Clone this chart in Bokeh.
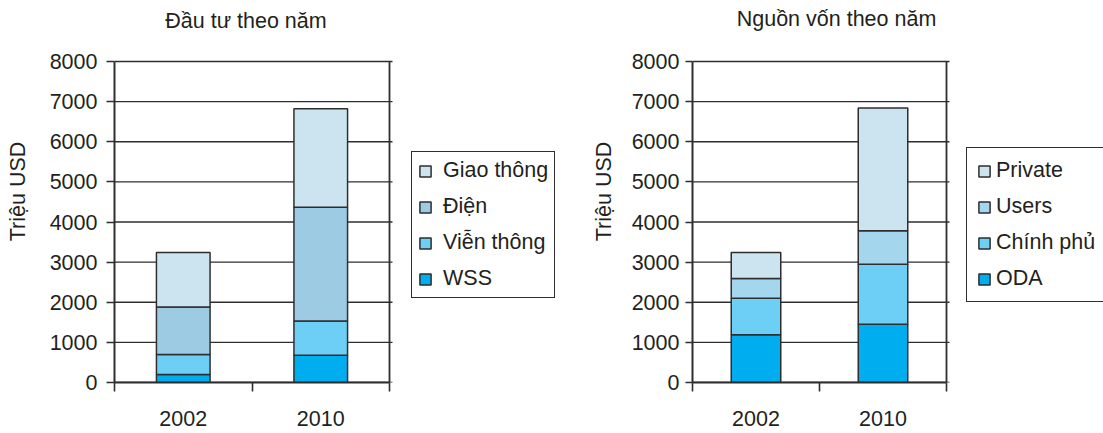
from bokeh.plotting import figure
from bokeh.layouts import row
from bokeh.models import Range1d, FixedTicker, Legend, LegendItem, Label
from bokeh.embed import file_html
from bokeh.resources import INLINE

# Years on the category axis
years = ["2002", "2010"]

# Investment by sector (million USD), stacked bottom to top
invest_names = ["WSS", "Viễn thông", "Điện", "Giao thông"]
wss = [200, 680]
vien_thong = [500, 855]
dien = [1180, 2830]
giao_thong = [1360, 2455]

# Funding sources (million USD), stacked bottom to top
fund_names = ["ODA", "Chính phủ", "Users", "Private"]
oda = [1190, 1450]
chinh_phu = [910, 1500]
users = [490, 830]
private = [650, 3060]

y_ticks = [0, 1000, 2000, 3000, 4000, 5000, 6000, 7000, 8000]

invest_colors = ["#00aeef", "#6dcff6", "#9ecbe4", "#cce4f0"]
fund_colors = ["#00aeef", "#6dcff6", "#a4d6ee", "#cce4f0"]

FONT = "Liberation Sans"
TEXT = "#231f20"
LINE = "#2e2e2e"
FS = "21.5px"

HEIGHT = 433
BOTTOM = 51        # space under the value axis
AXIS_TOP = 61      # pixel row of the top tick


def make_chart(title, names, values, colors, width, left, box_w,
               tick_out, tick_standoff, label_standoff,
               title_x, title_y, leg_x, leg_y, leg_pad, leg_standoff,
               leg_label_w):
    # The drawing area reaches the top and right edges so that the title and
    # the legend can sit beside the boxed plot; the box itself spans box_w px.
    frame_w = width - left
    frame_h = HEIGHT - BOTTOM
    box_h = frame_h - AXIS_TOP
    n = len(years)
    x_end = n * frame_w / box_w
    y_end = y_ticks[-1] * frame_h / box_h
    grid_end = n * (box_w + 3) / box_w   # grid lines poke just past the box

    p = figure(width=width, height=HEIGHT,
               x_range=Range1d(0, x_end), y_range=Range1d(0, y_end),
               output_backend="svg", toolbar_location=None,
               min_border_left=left, min_border_right=0,
               min_border_top=0, min_border_bottom=BOTTOM)
    p.background_fill_color = "white"
    p.border_fill_color = "white"
    p.outline_line_color = None
    p.xgrid.visible = False
    p.ygrid.visible = False

    # horizontal grid lines and right border of the plot box
    p.segment(x0=0, x1=grid_end, y0=y_ticks, y1=y_ticks,
              line_color=LINE, line_width=1.4)
    p.segment(x0=n, x1=n, y0=0, y1=y_ticks[-1],
              line_color=LINE, line_width=1.8)

    xs = [i + 0.5 for i in range(n)]
    data = {"x": xs}
    for name, v in zip(names, values):
        data[name] = v
    renderers = p.vbar_stack(names, x="x", width=0.39, source=data,
                             fill_color=colors, line_color=LINE,
                             line_width=1.5)

    # y axis
    yax = p.yaxis[0]
    yax.bounds = (0, y_ticks[-1])
    yax.ticker = FixedTicker(ticks=y_ticks)
    yax.axis_label = "Triệu USD"
    yax.axis_label_text_font = FONT
    yax.axis_label_text_font_size = FS
    yax.axis_label_text_font_style = "normal"
    yax.axis_label_text_color = TEXT
    yax.axis_label_standoff = label_standoff
    yax.major_label_text_font = FONT
    yax.major_label_text_font_size = FS
    yax.major_label_text_color = TEXT
    yax.major_label_standoff = tick_standoff
    yax.major_tick_out = tick_out
    yax.major_tick_in = 0
    yax.major_tick_line_color = LINE
    yax.major_tick_line_width = 1.6
    yax.minor_tick_line_color = None
    yax.axis_line_color = LINE
    yax.axis_line_width = 2

    # x axis: labels at bar centres, tick marks between categories
    xax = p.xaxis[0]
    xax.bounds = (0, n)
    xax.ticker = FixedTicker(ticks=xs, minor_ticks=list(range(n + 1)))
    xax.major_label_overrides = {x: y for x, y in zip(xs, years)}
    xax.major_label_text_font = FONT
    xax.major_label_text_font_size = FS
    xax.major_label_text_color = TEXT
    xax.major_tick_line_color = None
    xax.major_tick_out = 0
    xax.major_tick_in = 0
    xax.major_label_standoff = 19
    xax.minor_tick_out = 9
    xax.minor_tick_in = 0
    xax.minor_tick_line_color = LINE
    xax.minor_tick_line_width = 1.6
    xax.axis_line_color = LINE
    xax.axis_line_width = 2

    p.add_layout(Label(x=title_x, y=title_y, x_units="screen", y_units="screen",
                       text=title, text_align="center",
                       text_baseline="alphabetic", text_font=FONT,
                       text_font_size=FS, text_color=TEXT))

    items = [LegendItem(label=name, renderers=[r])
             for name, r in zip(reversed(names), reversed(renderers))]
    legend = Legend(items=items, location=(leg_x, leg_y),
                    glyph_width=14, glyph_height=14, label_height=24,
                    label_width=leg_label_w,
                    spacing=11, padding=leg_pad, margin=0,
                    label_standoff=leg_standoff,
                    label_text_font=FONT, label_text_font_size=FS,
                    label_text_color=TEXT,
                    border_line_color=LINE, border_line_width=1.5,
                    border_line_alpha=1,
                    background_fill_color="white", background_fill_alpha=1)
    p.add_layout(legend)
    return p


p1 = make_chart("Đầu tư theo năm", invest_names,
                [wss, vien_thong, dien, giao_thong], invest_colors,
                width=560, left=114, box_w=275,
                tick_out=8, tick_standoff=9, label_standoff=17,
                title_x=131.5, title_y=362,
                leg_x=297, leg_y=84, leg_pad=6, leg_standoff=11,
                leg_label_w=20)

p2 = make_chart("Nguồn vốn theo năm", fund_names,
                [oda, chinh_phu, users, private], fund_colors,
                width=543, left=132, box_w=254,
                tick_out=7, tick_standoff=6, label_standoff=13,
                title_x=144, title_y=364,
                leg_x=274, leg_y=80, leg_pad=10, leg_standoff=5,
                leg_label_w=140)

layout = row(p1, p2)
open("out.html", "w").write(file_html(layout, INLINE))
